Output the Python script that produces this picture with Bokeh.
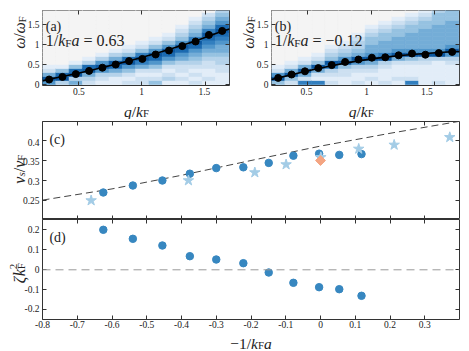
import math
from bokeh.plotting import figure
from bokeh.models import ColumnDataSource, Label, LinearAxis, FixedTicker, Span
from bokeh.layouts import column, row
from bokeh.transform import linear_cmap
from bokeh.core.properties import value
from bokeh.embed import file_html
from bokeh.resources import INLINE

# ---------------- data ----------------
q_grid = [0.27, 0.375, 0.48, 0.585, 0.69, 0.795, 0.90, 1.005, 1.11, 1.215, 1.32, 1.425, 1.53, 1.635]
q_step = 0.105
omega_bin_lo = [0.0, 0.1, 0.2, 0.3, 0.4, 0.5, 0.6, 0.7, 0.8, 0.9,
                1.0, 1.1, 1.2, 1.3, 1.4, 1.5, 1.6, 1.7, 1.8]
omega_step = 0.1

spec_a = ["6952100000000000000", "3984100000000000000", "5398410000000000000",
          "2359831000000000000", "1236963100000000000", "1135895310000000000",
          "2124698421000000000", "2212579742100000000", "4212468964210000000",
          "1321246896421000000", "1212235689643210000", "2121234568975432100",
          "1211223456789754320", "1112233455678986543"]
spec_b = ["4962100000000000000", "2495210000000000000", "7259521000000000000",
          "7125942100000000000", "2123794321000000000", "1122496432100000000",
          "2112369543321000000", "1212359655443210000", "2111239755544321000",
          "1211125965554432100", "7211124965555443210", "1111123965555544321",
          "2111113965555554443", "1111123696555555444"]

peak_a = [0.125, 0.19, 0.26, 0.34, 0.42, 0.50, 0.585, 0.64, 0.75, 0.85, 0.96, 1.075, 1.24, 1.34]
peak_b = [0.165, 0.25, 0.33, 0.41, 0.485, 0.565, 0.625, 0.67, 0.68, 0.73, 0.775, 0.745, 0.785, 0.815]

fit_q = [0.2175, 0.27, 0.375, 0.48, 0.585, 0.69, 0.795, 0.90, 1.005, 1.11, 1.215,
         1.32, 1.425, 1.53, 1.635, 1.6925]
fit_a = [0.09, 0.13, 0.20, 0.27, 0.345, 0.425, 0.505, 0.59, 0.68, 0.775, 0.875,
         0.98, 1.09, 1.21, 1.33, 1.39]
fit_b = [0.125, 0.165, 0.245, 0.325, 0.40, 0.47, 0.535, 0.59, 0.64, 0.685, 0.72,
         0.75, 0.775, 0.80, 0.82, 0.825]

x_circ = [-0.625, -0.54, -0.455, -0.376, -0.30, -0.222, -0.149, -0.078, -0.004, 0.054, 0.118]
vs_circ = [0.27, 0.2875, 0.30, 0.317, 0.331, 0.333, 0.344, 0.362, 0.367, 0.364, 0.366]
zeta_circ = [0.20, 0.155, 0.1215, 0.068, 0.0515, 0.033, -0.0135, -0.065, -0.087, -0.097, -0.13]
x_star = [-0.66, -0.38, -0.189, -0.099, 0.001, 0.11, 0.212, 0.372]
vs_star = [0.25, 0.30, 0.32, 0.34, 0.358, 0.379, 0.389, 0.408]
x_diam = [0.0]
vs_diam = [0.35]
theory_x = [-0.8, -0.6, -0.4, -0.2, 0.0, 0.2, 0.4]
theory_vs = [0.251, 0.279, 0.313, 0.350, 0.386, 0.418, 0.448]

q_ticks = [0.5, 1.0, 1.5]
q_tick_labels = ["0.5", "1", "1.5"]
w_ticks = [0.0, 0.5, 1.0, 1.5]
w_tick_labels = ["0", "0.5", "1", "1.5"]
x_ticks = [-0.8, -0.7, -0.6, -0.5, -0.4, -0.3, -0.2, -0.1, 0.0, 0.1, 0.2, 0.3]
x_tick_labels = ["-0.8", "-0.7", "-0.6", "-0.5", "-0.4", "-0.3", "-0.2", "-0.1", "0", "0.1", "0.2", "0.3"]
vs_ticks = [0.25, 0.3, 0.35, 0.4]
vs_tick_labels = ["0.25", "0.3", "0.35", "0.4"]
z_ticks = [-0.2, -0.1, 0.0, 0.1, 0.2]
z_tick_labels = ["-0.2", "-0.1", "0", "0.1", "0.2"]

# ---------------- styling ----------------
FONT = "Liberation Serif"
TXT = "#222222"
TICK_FS = "9.5px"
palette = ["#f4f4f4", "#e2edf8", "#cde0f1", "#b4d2ea", "#96c2e1",
           "#74add7", "#5096cb", "#327fbf", "#1b6ab0", "#0b57a0"]
C_CIRC = "#3787c0"
C_STAR = "#a3cce6"
C_DIAM = "#f4a582"
NB = "\u00a0"
SUB = 0.15
SUP = 0.33

W_R = {"0": .5, "1": .5, "2": .5, "3": .5, "6": .5, ".": .25, "/": .278, "=": .564,
       " ": .25, NB: .25, "(": .333, ")": .333, "\u2212": .564, "-": .333, "F": .556,
       "a": .444, "b": .5, "c": .444, "d": .5}
W_I = {"k": .444, "a": .5, "q": .5, "v": .444, "s": .389, "\u03c9": .68, "\u03b6": .44}


def seg_w(text, italic, size):
    tbl = W_I if italic else W_R
    return sum(tbl.get(c, 0.5) for c in text) * size


def math_label(p, x, y, segs, size, angle=0.0, center=False):
    """segs: (text, italic, role, advance); role 0 main, -1 sub, +1 sup"""
    items = []
    adv = 0.0
    for text, italic, role, advance in segs:
        fs = size if role == 0 else size * 0.7
        items.append((text, italic, role, fs, adv))
        if advance:
            adv += seg_w(text, italic, fs)
    start = -adv / 2 if center else 0.0
    for text, italic, role, fs, a in items:
        shift = 0.0 if role == 0 else (-SUB * size if role < 0 else SUP * size)
        along = start + a
        if angle == 0:
            xo, yo = along, shift
        else:
            xo, yo = -shift, along
        p.add_layout(Label(x=x, y=y, x_offset=xo, y_offset=yo, text=text, angle=angle,
                           text_font=FONT, text_font_size=f"{fs:.1f}px",
                           text_font_style="italic" if italic else "normal",
                           text_color=TXT, text_align="left", text_baseline="alphabetic"))


def tick_text(p, x, y, labels, align, baseline):
    p.text(x=x, y=y, text=labels, text_align=align, text_baseline=baseline,
           text_font=value(FONT), text_font_size=value(TICK_FS), text_color=TXT)


def setup_axes(p, xt, yt):
    p.xaxis.ticker = FixedTicker(ticks=xt)
    p.yaxis.ticker = FixedTicker(ticks=yt)
    for loc, ticks in (("above", xt), ("right", yt)):
        p.add_layout(LinearAxis(ticker=FixedTicker(ticks=ticks)), loc)
    for ax in p.axis:
        ax.major_label_text_font_size = "0px"
        ax.major_label_text_color = None
        ax.major_label_standoff = 0
        ax.axis_line_color = None
        ax.major_tick_in = 4
        ax.major_tick_out = 0
        ax.minor_tick_in = 0
        ax.minor_tick_out = 0
        ax.major_tick_line_color = "#333333"
    p.grid.visible = False
    p.outline_line_color = "#333333"
    p.outline_line_width = 1


def make_fig(width, height, xr, yr, left, right, top, bottom):
    p = figure(width=width, height=height, x_range=xr, y_range=yr, title=None,
               output_backend="svg", toolbar_location=None,
               min_border_left=left, min_border_right=right,
               min_border_top=top, min_border_bottom=bottom)
    p.border_fill_color = "white"
    return p


def strip(width, height, xr, yr):
    p = figure(width=width, height=height, title=None, x_range=xr, y_range=yr,
               output_backend="svg", toolbar_location=None,
               x_axis_location=None, y_axis_location=None,
               min_border=0, min_border_left=0, min_border_right=0,
               min_border_top=0, min_border_bottom=0)
    p.outline_line_color = None
    p.border_fill_color = "white"
    p.background_fill_color = "white"
    p.grid.visible = False
    return p


def spectrum_panel(p, spec, peaks, fit, letter, value_text):
    xs, ys, lv = [], [], []
    for i, col in enumerate(spec):
        for j, ch in enumerate(col):
            xs.append(q_grid[i])
            ys.append(omega_bin_lo[j] + omega_step / 2)
            lv.append(int(ch))
    src = ColumnDataSource(dict(q=xs, w=ys, lv=lv))
    cmap = linear_cmap("lv", palette, -0.5, 9.5)
    p.rect(x="q", y="w", width=q_step, height=omega_step, source=src,
           fill_color=cmap, line_color=cmap, line_width=0.6)
    p.background_fill_color = palette[0]
    p.line(fit_q, fit, line_color="black", line_width=1.6)
    p.scatter(q_grid, peaks, size=7, fill_color="black", line_color="black")
    setup_axes(p, q_ticks, w_ticks)
    math_label(p, 0.243, 1.45, [(letter, False, 0, True)], 14)
    math_label(p, 0.243, 1.09, [("1/", False, 0, True), ("k", True, 0, True),
                                ("F", False, -1, True), ("a", True, 0, True),
                                (value_text, False, 0, True)], 16)


def omega_label(p, x, y):
    math_label(p, x, y, [("\u03c9", True, 0, True), ("/", False, 0, True),
                         ("\u03c9", True, 0, True), ("F", False, -1, True)],
               16, angle=math.pi / 2, center=True)


def q_label(p, x, y):
    math_label(p, x, y, [("q", True, 0, True), ("/", False, 0, True),
                         ("k", True, 0, True), ("F", False, -1, True)], 15.5, center=True)


Q_RANGE = (0.2175, 1.6925)
W_RANGE = (-0.025, 1.85)
X_RANGE = (-0.8, 0.4)
VS_RANGE = (0.2025, 0.4475)
Z_RANGE = (-0.2485, 0.2515)

# pixel geometry of the frames
TOP_H, TOP_FRAME_T, TOP_FRAME_H = 86, 10, 75       # rows of (a),(b)
XSTRIP_H = 33
w_ppu = TOP_FRAME_H / (W_RANGE[1] - W_RANGE[0])
qa_ppu = 187 / (Q_RANGE[1] - Q_RANGE[0])
qb_ppu = 188 / (Q_RANGE[1] - Q_RANGE[0])
x_ppu = 417 / (X_RANGE[1] - X_RANGE[0])
vs_ppu = 98 / (VS_RANGE[1] - VS_RANGE[0])
z_ppu = 100 / (Z_RANGE[1] - Z_RANGE[0])

left_y_range = (W_RANGE[0] - (TOP_H + XSTRIP_H - TOP_FRAME_T - TOP_FRAME_H) / w_ppu,
                W_RANGE[1] + TOP_FRAME_T / w_ppu)

# ---------------- (a) ----------------
sya = strip(41, TOP_H + XSTRIP_H, (0, 41), left_y_range)
tick_text(sya, 39, w_ticks, w_tick_labels, "right", "middle")
omega_label(sya, 19, 1.3)
fa = make_fig(189, TOP_H, Q_RANGE, W_RANGE, 1, 1, TOP_FRAME_T, 1)
spectrum_panel(fa, spec_a, peak_a, fit_a, "(a)", NB + "=" + NB + "0.63")
sxa = strip(189, XSTRIP_H, (Q_RANGE[0] - 1 / qa_ppu, Q_RANGE[1] + 1 / qa_ppu), (0, XSTRIP_H))
tick_text(sxa, q_ticks, 32, q_tick_labels, "center", "top")
q_label(sxa, 0.959, 8.5)

# ---------------- (b) ----------------
syb = strip(40, TOP_H + XSTRIP_H, (0, 40), left_y_range)
tick_text(syb, 38, w_ticks, w_tick_labels, "right", "middle")
omega_label(syb, 18, 1.3)
fb = make_fig(199, TOP_H, Q_RANGE, W_RANGE, 1, 10, TOP_FRAME_T, 1)
spectrum_panel(fb, spec_b, peak_b, fit_b, "(b)", NB + "=" + NB + "\u22120.12")
sxb = strip(199, XSTRIP_H, (Q_RANGE[0] - 1 / qb_ppu, Q_RANGE[1] + 10 / qb_ppu), (0, XSTRIP_H))
tick_text(sxb, q_ticks, 32, q_tick_labels, "center", "top")
q_label(sxb, 0.955, 8.5)

# ---------------- (c) ----------------
syc = strip(41, 100, (0, 41), (VS_RANGE[0], VS_RANGE[1] + 2 / vs_ppu))
tick_text(syc, 39, vs_ticks, vs_tick_labels, "right", "middle")
math_label(syc, 18.5, 0.33125, [("v", True, 0, True), ("s", True, -1, True),
                                ("/", False, 0, True), ("v", True, 0, True),
                                ("F", False, -1, True)], 16, angle=math.pi / 2, center=True)
fc = make_fig(428, 100, X_RANGE, VS_RANGE, 1, 10, 2, 0)
fc.line(theory_x, theory_vs, line_color="#444444", line_width=1, line_dash="7 4")
fc.scatter(x_circ, vs_circ, size=7.5, fill_color=C_CIRC, line_color=C_CIRC)
fc.scatter(x_star, vs_star, marker="star", size=11, fill_color=C_STAR, line_color=C_STAR)
fc.scatter(x_diam, vs_diam, marker="square", angle=math.pi / 4, size=7,
           fill_color=C_DIAM, line_color=C_DIAM)
setup_axes(fc, x_ticks, vs_ticks)
math_label(fc, -0.78, 0.402, [("(c)", False, 0, True)], 14)

# ---------------- (d) ----------------
syd = strip(41, 101, (0, 41), (Z_RANGE[0] - 1 / z_ppu, Z_RANGE[1]))
tick_text(syd, 39, z_ticks, z_tick_labels, "right", "middle")
math_label(syd, 18.5, -0.021, [("\u03b6", True, 0, True), ("k", True, 0, True),
                               ("F", False, -1, False), ("2", False, 1, True)],
           16, angle=math.pi / 2, center=True)
fd = make_fig(428, 101, X_RANGE, Z_RANGE, 1, 10, 0, 1)
fd.add_layout(Span(location=0, dimension="width", line_color="#999999",
                   line_width=1, line_dash="8 5"))
fd.scatter(x_circ, zeta_circ, size=7.5, fill_color=C_CIRC, line_color=C_CIRC)
setup_axes(fd, x_ticks, z_ticks)
math_label(fd, -0.78, 0.163, [("(d)", False, 0, True)], 14)

sxd = strip(469, 31, (X_RANGE[0] - 42 / x_ppu, X_RANGE[1] + 10 / x_ppu), (0, 31))
tick_text(sxd, x_ticks, 30.5, x_tick_labels, "center", "top")
math_label(sxd, -0.2, 8.5, [("\u22121/", False, 0, True), ("k", True, 0, True),
                            ("F", False, -1, True), ("a", True, 0, True)], 15.5, center=True)

layout = column(
    row(sya, column(fa, sxa), syb, column(fb, sxb)),
    row(syc, fc),
    row(syd, fd),
    sxd,
)
open("out.html", "w").write(file_html(layout, INLINE))
